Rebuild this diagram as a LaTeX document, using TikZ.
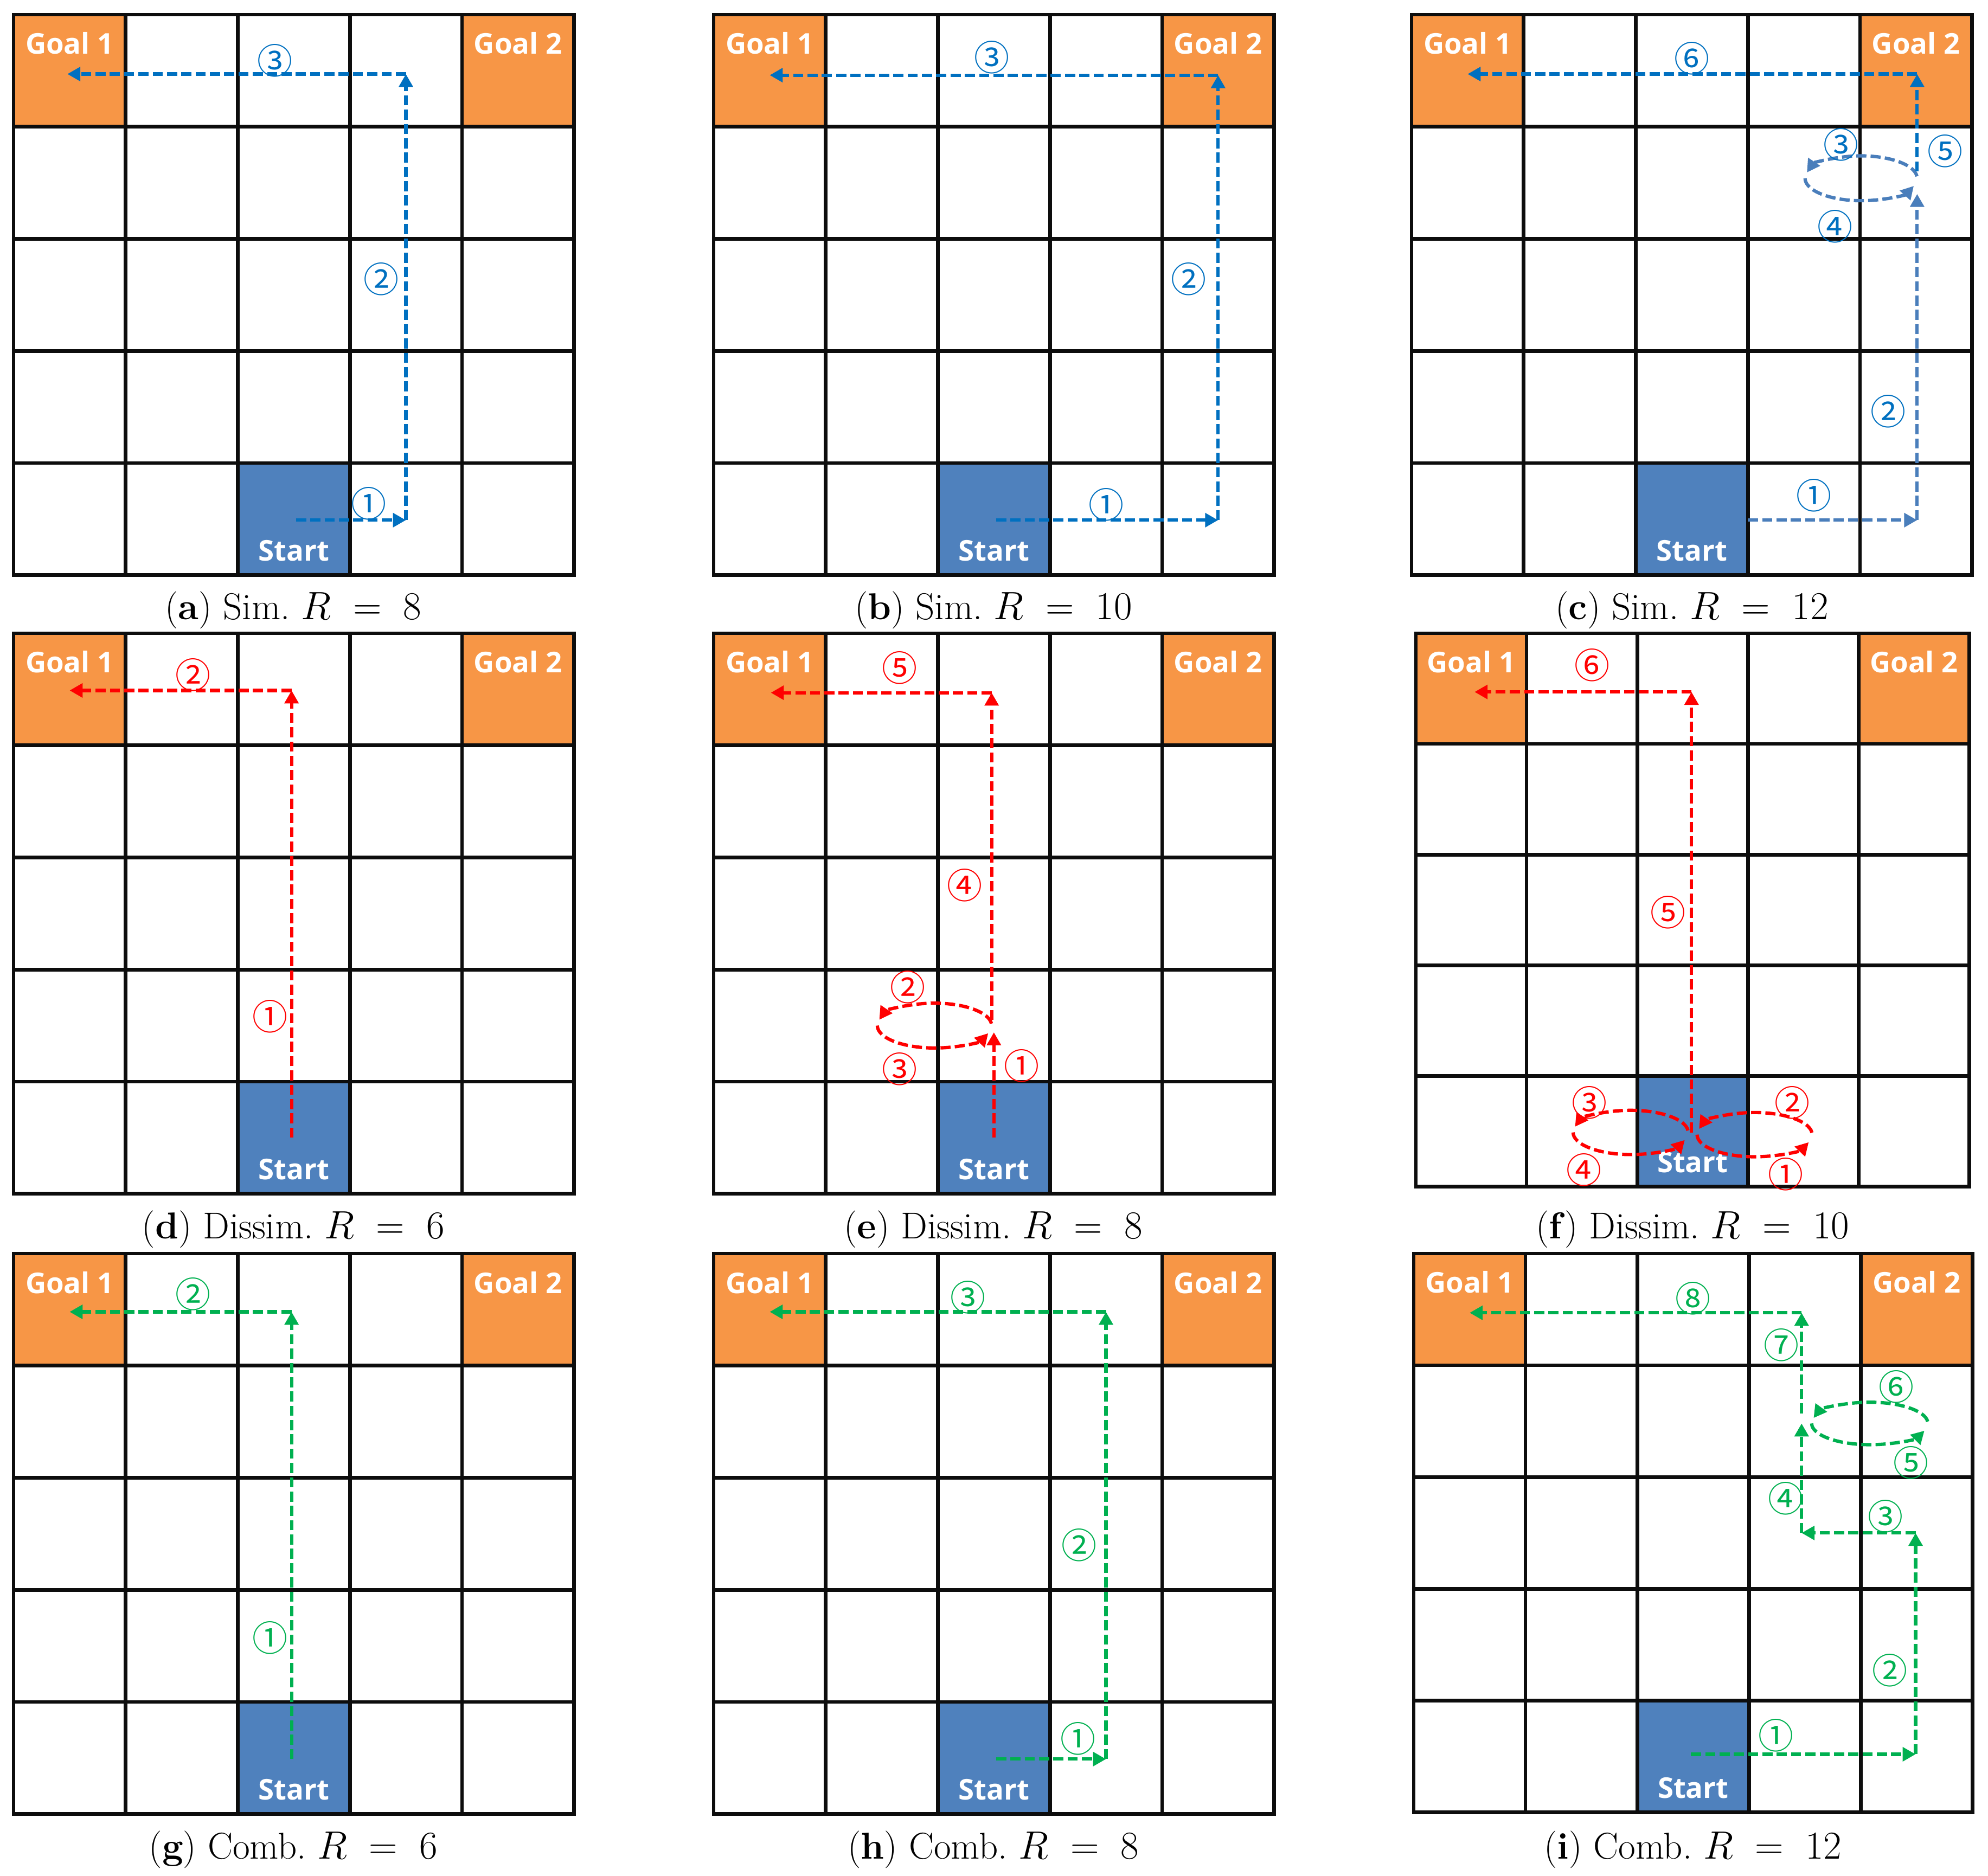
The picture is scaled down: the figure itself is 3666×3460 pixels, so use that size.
\documentclass[tikz,border=0pt]{standalone}
\usepackage{fontspec}
\usetikzlibrary{arrows.meta}
\newfontfamily\goalfont{Open Sans}
\newfontfamily\cnfont{Noto Sans CJK SC}
\definecolor{goalor}{HTML}{F79646}
\definecolor{startbl}{HTML}{4F81BD}
\definecolor{pblue}{HTML}{0070C0}
\definecolor{plblue}{HTML}{4A7EBB}
\definecolor{pred}{HTML}{FF0000}
\definecolor{pgreen}{HTML}{00B050}
\tikzset{
  gridline/.style={line width=1.9pt, line cap=rect, draw=black!95},
  celltext/.style={font=\goalfont\bfseries\fontsize{15}{17}\selectfont, text=white, anchor=base, inner sep=0pt},
  captext/.style={font=\fontsize{19.6}{23}\selectfont, anchor=base, inner sep=0pt},
  route/.style={line width=1.75pt, dash pattern=on 5.3pt off 2.2pt, -{Triangle[length=6.8pt,width=7.2pt]}},
  cnum/.style={font=\cnfont\fontsize{18.5}{18.5}\selectfont, inner sep=0pt},
}
\newcommand\gridbase[1]{%
  \fill[goalor] (0,0) rectangle (1,1);
  \fill[goalor] (4,0) rectangle (5,1);
  \fill[startbl] (2,4) rectangle (3,5);
  \foreach \k in {0,...,5}{\draw[gridline] (\k,0) -- (\k,5); \draw[gridline] (0,\k) -- (5,\k);}
  \node[celltext] (#1g1) at (0.5,0.353) {Goal 1};
  \node[celltext] (#1g2) at (4.5,0.353) {Goal 2};
  \node[celltext] (#1st) at (2.5,4.874) {Start};
}
\newcommand\capt[3]{(\textbf{#1})\ #2\ $R\;=\;#3$}
\begin{document}
\begin{tikzpicture}[x=0.01cm, y=-0.01cm]
\useasboundingbox (0,0) rectangle (3666,3460);

% ---------------- (a)
\begin{scope}[shift={(25,27)}, x=2.066cm, y=-2.066cm]
\gridbase{a}
\coordinate (aA) at (2.52,4.51);
\coordinate (aB) at (3.5,4.51);
\coordinate (aC) at (3.5,0.53);
\coordinate (aD) at (0.48,0.53);
\draw[route, pblue] (aA) -- (aB);
\draw[route, pblue] (aB) -- (aC);
\draw[route, pblue] (aC) -- (aD);
\node[cnum, text=pblue] (a1) at (3.17,4.36) {①};
\node[cnum, text=pblue] (a2) at (3.28,2.36) {②};
\node[cnum, text=pblue] (a3) at (2.33,0.41) {③};
\end{scope}

% ---------------- (b)
\begin{scope}[shift={(1316,27)}, x=2.066cm, y=-2.066cm]
\gridbase{b}
\coordinate (bA) at (2.52,4.51);
\coordinate (bB) at (4.5,4.51);
\coordinate (bC) at (4.5,0.54);
\coordinate (bD) at (0.5,0.54);
\draw[route, pblue] (bA) -- (bB);
\draw[route, pblue] (bB) -- (bC);
\draw[route, pblue] (bC) -- (bD);
\node[cnum, text=pblue] (b1) at (3.5,4.37) {①};
\node[cnum, text=pblue] (b2) at (4.24,2.36) {②};
\node[cnum, text=pblue] (b3) at (2.48,0.38) {③};
\end{scope}

% ---------------- (c)
\begin{scope}[shift={(2603,27)}, x=2.066cm, y=-2.066cm]
\gridbase{c}
\coordinate (cA) at (3.0,4.51);
\coordinate (cB) at (4.51,4.51);
\coordinate (cC) at (4.51,1.6);
\coordinate (cL) at (4.01,1.46);
\coordinate (cE) at (4.51,1.40);
\coordinate (cF) at (4.51,0.53);
\coordinate (cG) at (0.5,0.53);
\draw[route, plblue] (cA) -- (cB);
\draw[route, plblue] (cB) -- (cC);
\draw[route, plblue] ([shift={(-5:0.5 and 0.2)}]cL) arc[start angle=-5, end angle=-165, x radius=0.5, y radius=0.2];
\draw[route, plblue] ([shift={(180:0.5 and 0.2)}]cL) arc[start angle=180, end angle=20, x radius=0.5, y radius=0.2];
\draw[route, pblue] (cE) -- (cF);
\draw[route, pblue] (cF) -- (cG);
\node[cnum, text=pblue] (c1) at (3.59,4.29) {①};
\node[cnum, text=pblue] (c2) at (4.25,3.54) {②};
\node[cnum, text=pblue] (c3) at (3.83,1.16) {③};
\node[cnum, text=pblue] (c4) at (3.78,1.89) {④};
\node[cnum, text=pblue] (c5) at (4.76,1.22) {⑤};
\node[cnum, text=pblue] (c6) at (2.5,0.39) {⑥};
\end{scope}

% ---------------- (d)
\begin{scope}[shift={(25,1168)}, x=2.066cm, y=-2.066cm]
\gridbase{d}
\coordinate (dA) at (2.48,4.5);
\coordinate (dB) at (2.48,0.51);
\coordinate (dC) at (0.5,0.51);
\draw[route, pred] (dA) -- (dB);
\draw[route, pred] (dB) -- (dC);
\node[cnum, text=pred] (d1) at (2.29,3.42) {①};
\node[cnum, text=pred] (d2) at (1.6,0.37) {②};
\end{scope}

% ---------------- (e)
\begin{scope}[shift={(1316,1168)}, x=2.066cm, y=-2.066cm]
\gridbase{e}
\coordinate (eA) at (2.5,4.5);
\coordinate (eB) at (2.5,3.56);
\coordinate (eL) at (1.97,3.5);
\coordinate (eC) at (2.48,3.45);
\coordinate (eD) at (2.48,0.53);
\coordinate (eE) at (0.51,0.53);
\draw[route, pred] (eA) -- (eB);
\draw[route, pred] ([shift={(-5:0.51 and 0.2)}]eL) arc[start angle=-5, end angle=-165, x radius=0.51, y radius=0.2];
\draw[route, pred] ([shift={(180:0.51 and 0.2)}]eL) arc[start angle=180, end angle=20, x radius=0.51, y radius=0.2];
\draw[route, pred] (eC) -- (eD);
\draw[route, pred] (eD) -- (eE);
\node[cnum, text=pred] (e1) at (2.75,3.86) {①};
\node[cnum, text=pred] (e2) at (1.73,3.16) {②};
\node[cnum, text=pred] (e3) at (1.66,3.89) {③};
\node[cnum, text=pred] (e4) at (2.24,2.25) {④};
\node[cnum, text=pred] (e5) at (1.66,0.31) {⑤};
\end{scope}

% ---------------- (f)
\begin{scope}[shift={(2611,1168)}, x=2.04cm, y=-2.04cm]
\gridbase{f}
\coordinate (fR) at (3.06,4.53);
\coordinate (fL) at (1.94,4.51);
\coordinate (fA) at (2.49,4.51);
\coordinate (fB) at (2.49,0.53);
\coordinate (fC) at (0.53,0.53);
\draw[route, pred] ([shift={(180:0.52 and 0.2)}]fR) arc[start angle=180, end angle=20, x radius=0.52, y radius=0.2];
\draw[route, pred] ([shift={(-5:0.52 and 0.2)}]fR) arc[start angle=-5, end angle=-165, x radius=0.52, y radius=0.2];
\draw[route, pred] ([shift={(-5:0.52 and 0.2)}]fL) arc[start angle=-5, end angle=-165, x radius=0.52, y radius=0.2];
\draw[route, pred] ([shift={(180:0.52 and 0.2)}]fL) arc[start angle=180, end angle=20, x radius=0.52, y radius=0.2];
\draw[route, pred] (fA) -- (fB);
\draw[route, pred] (fB) -- (fC);
\node[cnum, text=pred] (f1) at (3.34,4.89) {①};
\node[cnum, text=pred] (f2) at (3.4,4.24) {②};
\node[cnum, text=pred] (f3) at (1.57,4.24) {③};
\node[cnum, text=pred] (f4) at (1.52,4.85) {④};
\node[cnum, text=pred] (f5) at (2.28,2.52) {⑤};
\node[cnum, text=pred] (f6) at (1.59,0.29) {⑥};
\end{scope}

% ---------------- (g)
\begin{scope}[shift={(25,2312)}, x=2.066cm, y=-2.066cm]
\gridbase{g}
\coordinate (gA) at (2.48,4.51);
\coordinate (gB) at (2.48,0.52);
\coordinate (gC) at (0.5,0.52);
\draw[route, pgreen] (gA) -- (gB);
\draw[route, pgreen] (gB) -- (gC);
\node[cnum, text=pgreen] (g1) at (2.29,3.43) {①};
\node[cnum, text=pgreen] (g2) at (1.6,0.36) {②};
\end{scope}

% ---------------- (h)
\begin{scope}[shift={(1316,2312)}, x=2.066cm, y=-2.066cm]
\gridbase{h}
\coordinate (hA) at (2.52,4.51);
\coordinate (hB) at (3.5,4.51);
\coordinate (hC) at (3.5,0.52);
\coordinate (hD) at (0.5,0.52);
\draw[route, pgreen] (hA) -- (hB);
\draw[route, pgreen] (hB) -- (hC);
\draw[route, pgreen] (hC) -- (hD);
\node[cnum, text=pgreen] (h1) at (3.25,4.33) {①};
\node[cnum, text=pgreen] (h2) at (3.26,2.6) {②};
\node[cnum, text=pgreen] (h3) at (2.27,0.39) {③};
\end{scope}

% ---------------- (i)
\begin{scope}[shift={(2607,2312)}, x=2.06cm, y=-2.06cm]
\gridbase{i}
\coordinate (iA) at (2.48,4.48);
\coordinate (iB) at (4.49,4.48);
\coordinate (iC) at (4.49,2.5);
\coordinate (iD) at (3.47,2.5);
\coordinate (iE) at (3.47,1.52);
\coordinate (iL) at (4.08,1.52);
\coordinate (iF) at (3.47,1.43);
\coordinate (iG) at (3.47,0.53);
\coordinate (iH) at (0.5,0.53);
\draw[route, pgreen] (iA) -- (iB);
\draw[route, pgreen] (iB) -- (iC);
\draw[route, pgreen] (iC) -- (iD);
\draw[route, pgreen] (iD) -- (iE);
\draw[route, pgreen] ([shift={(180:0.52 and 0.19)}]iL) arc[start angle=180, end angle=20, x radius=0.52, y radius=0.19];
\draw[route, pgreen] ([shift={(-5:0.52 and 0.19)}]iL) arc[start angle=-5, end angle=-165, x radius=0.52, y radius=0.19];
\draw[route, pgreen] (iF) -- (iG);
\draw[route, pgreen] (iG) -- (iH);
\node[cnum, text=pgreen] (i1) at (3.24,4.31) {①};
\node[cnum, text=pgreen] (i2) at (4.26,3.73) {②};
\node[cnum, text=pgreen] (i3) at (4.22,2.35) {③};
\node[cnum, text=pgreen] (i4) at (3.33,2.19) {④};
\node[cnum, text=pgreen] (i5) at (4.45,1.87) {⑤};
\node[cnum, text=pgreen] (i6) at (4.32,1.19) {⑥};
\node[cnum, text=pgreen] (i7) at (3.29,0.82) {⑦};
\node[cnum, text=pgreen] (i8) at (2.5,0.4) {⑧};
\end{scope}

% ---------------- captions
\node[captext] (capa) at (541,1142) {\capt{a}{Sim.}{8}};
\node[captext] (capb) at (1832,1142) {\capt{b}{Sim.}{10}};
\node[captext] (capc) at (3120,1142) {\capt{c}{Sim.}{12}};
\node[captext] (capd) at (541,2284) {\capt{d}{Dissim.}{6}};
\node[captext] (cape) at (1832,2284) {\capt{e}{Dissim.}{8}};
\node[captext] (capf) at (3121,2284) {\capt{f}{Dissim.}{10}};
\node[captext] (capg) at (541,3428) {\capt{g}{Comb.}{6}};
\node[captext] (caph) at (1832,3428) {\capt{h}{Comb.}{8}};
\node[captext] (capi) at (3122,3428) {\capt{i}{Comb.}{12}};
\end{tikzpicture}
\end{document}
